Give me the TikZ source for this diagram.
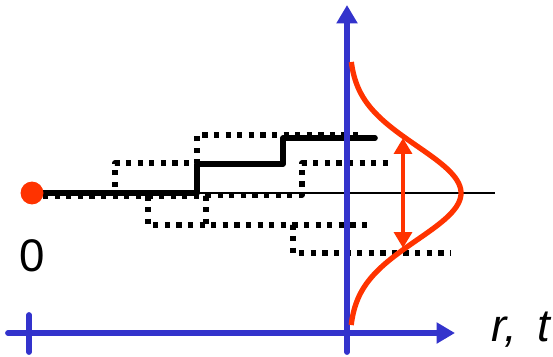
\documentclass[tikz,border=0pt]{standalone}
\usepackage{fontspec}
\setmainfont{Liberation Sans}
\usetikzlibrary{arrows.meta}
\definecolor{axisblue}{RGB}{51,51,204}
\definecolor{curvered}{RGB}{255,51,0}

\begin{document}
\begin{tikzpicture}[x=0.02cm, y=-0.02cm, line join=round,
  every node/.style={font=\fontsize{26}{30}\selectfont, inner sep=0pt},
  walk/.style={line width=3.2pt, line cap=round},
  trial/.style={line width=3pt, dash pattern=on 3pt off 3.6pt},
  axis/.style={axisblue, line width=3.3pt, line cap=round}]
  \useasboundingbox (0,0) rectangle (553,356);
  \coordinate (origin) at (32,193);
  % mean line
  \draw[line width=1.6pt] (origin) -- (495,193);
  % other trials
  \draw[trial] (43,196) -- (115,196) -- (115,163) -- (197,163) -- (197,135) -- (363,135);
  \draw[trial] (43,196) -- (148,196) -- (148,225) -- (293,225) -- (293,253) -- (450,253);
  \draw[trial] (43,196) -- (206,196) -- (206,225) -- (368,225);
  \draw[trial] (206,195) -- (302,195) -- (302,163) -- (390,163);
  % one trial
  \draw[walk] (43,193) -- (197,193) -- (197,164) -- (283,164) -- (283,138) -- (375,138);
  % axes
  \draw[axis, -{Triangle[length=10.5pt, width=11.5pt]}] (8,333) -- (455,333);
  \draw[axis, -{Triangle[length=10.5pt, width=11.5pt]}] (347,352) -- (347,5);
  \draw[axis] (29,315) -- (29,352);
  \node[anchor=base west] (rt) at (491,341) {\itshape r,\, t};
  \node[anchor=base] (zero) at (32,271) {0};
  % distribution
  \draw[curvered, line width=3pt] plot[domain=-131:132, samples=90, smooth]
    ({349+112*exp(-0.5*(\x/47)^2)}, {193+\x});
  \draw[curvered, line width=2.8pt, {Triangle[length=9pt, width=10pt]}-{Triangle[length=9pt, width=10pt]}]
    (403,138) -- (403,248);
  \fill[curvered] (origin) circle[radius=6.5pt];
\end{tikzpicture}
\end{document}
